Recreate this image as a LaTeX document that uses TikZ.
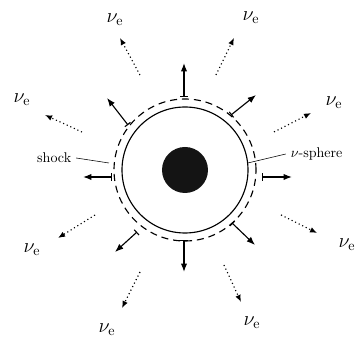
\documentclass[tikz,border=0pt]{standalone}
\usepackage{tikz}
\usetikzlibrary{arrows.meta}

\begin{document}
\begin{tikzpicture}[>=Latex,
  outflow/.style={thick,{Bar[width=5pt]}-{Latex[length=6pt,width=4.5pt]}},
  flux/.style={thick,dotted,-{Latex[length=5pt,width=4pt]}},
  nulabel/.style={font=\Large}]
  \useasboundingbox (-4.625,-4.275) rectangle (4.325,4.25);
  % Core, neutrino sphere and shock front
  \coordinate (O) at (0,0);
  \fill[black!92] (O) circle (0.575);
  \draw[thick] (O) circle (1.575);
  \draw[thick,dash pattern=on 5pt off 3.5pt] (O) circle (1.775);
  % Matter pushed out by the shock
  \draw[outflow] (-0.025,1.825)--(-0.025,2.675);
  \draw[outflow] (1.15,1.375)--(1.775,1.875);
  \draw[outflow] (1.925,-0.175)--(2.675,-0.175);
  \draw[outflow] (1.175,-1.325)--(1.75,-1.875);
  \draw[outflow] (-0.025,-1.75)--(-0.025,-2.55);
  \draw[outflow] (-1.2,-1.55)--(-1.75,-2.05);
  \draw[outflow] (-1.825,-0.175)--(-2.55,-0.175);
  \draw[outflow] (-1.425,1.125)--(-1.95,1.8);
  % Neutrino flux
  \draw[flux] (-1.125,2.375)--(-1.625,3.3);
  \draw[flux] (0.775,2.375)--(1.225,3.3);
  \draw[flux] (2.225,0.95)--(3.15,1.425);
  \draw[flux] (2.4,-1.125)--(3.3,-1.575);
  \draw[flux] (0.975,-2.375)--(1.4,-3.3);
  \draw[flux] (-1.125,-2.55)--(-1.575,-3.45);
  \draw[flux] (-2.25,-1.125)--(-3.175,-1.7);
  \draw[flux] (-2.575,0.95)--(-3.5,1.375);
  % Neutrino labels
  \node[nulabel] (nuA) at (-1.75,3.75){$\nu_{\mathrm{e}}$};
  \node[nulabel] (nuB) at (1.65,3.8){$\nu_{\mathrm{e}}$};
  \node[nulabel] (nuC) at (3.725,1.675){$\nu_{\mathrm{e}}$};
  \node[nulabel] (nuD) at (4.05,-1.875){$\nu_{\mathrm{e}}$};
  \node[nulabel] (nuE) at (1.675,-3.825){$\nu_{\mathrm{e}}$};
  \node[nulabel] (nuF) at (-1.95,-4.0){$\nu_{\mathrm{e}}$};
  \node[nulabel] (nuG) at (-3.825,-2.0){$\nu_{\mathrm{e}}$};
  \node[nulabel] (nuH) at (-4.075,1.75){$\nu_{\mathrm{e}}$};
  % Shock and nu-sphere markers
  \node[anchor=east] (shock) at (-2.72,0.3){shock};
  \node[anchor=west] (nusphere) at (2.52,0.4){$\nu$-sphere};
  \coordinate (shockpt) at (-1.9,0.175);
  \coordinate (spherept) at (1.57,0.175);
  \draw (shock.east)--(shockpt);
  \draw (nusphere.west)--(spherept);
\end{tikzpicture}
\end{document}
